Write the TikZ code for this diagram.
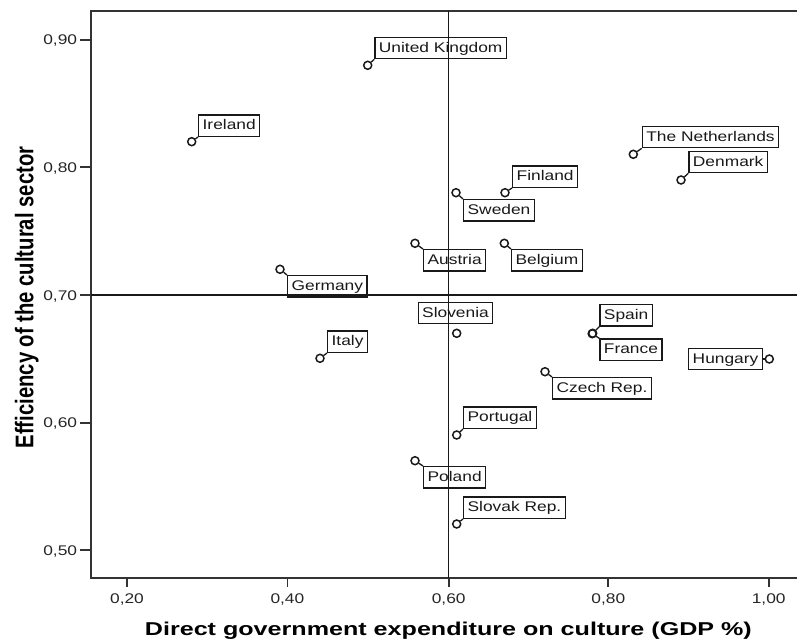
\documentclass[tikz,border=0pt]{standalone}
\usepackage{fontspec}
\newfontfamily\lblfont[FakeStretch=1.24]{Liberation Sans}
\newfontfamily\ttlfont[FakeStretch=1.35]{Liberation Sans}
\newfontfamily\ytlfont{Liberation Sans}

\begin{document}
\begin{tikzpicture}[x=1pt,y=-1pt,
  frame/.style={draw=black!80,line width=1.8pt},
  refline/.style={draw=black!90,line width=1.5pt},
  pt/.style={circle,draw=black!90,line width=1.5pt,inner sep=0pt,minimum size=8pt},
  lbl/.style={draw=black!90,line width=1.3pt,font=\lblfont\fontsize{14}{16}\selectfont,
    text=black!90,inner xsep=4pt,inner ysep=4.4pt,text height=10.5pt,text depth=2pt},
  leader/.style={draw=black!90,line width=1.3pt},
  ticklbl/.style={font=\lblfont\fontsize{14}{16}\selectfont,text=black!85,inner sep=0pt}]
\useasboundingbox (0,0) rectangle (797,642);
%frame and reference lines
\draw[frame] (797,11) -- (91,11) -- (91,578) -- (797,578);
\draw[refline] (448.7,11) -- (448.7,578);
\draw[refline] (91,295) -- (797,295);
%y axis
\draw[frame] (80,40) -- (91,40);
\draw[frame] (80,167.3) -- (91,167.3);
\draw[frame] (80,295) -- (91,295);
\draw[frame] (80,422.7) -- (91,422.7);
\draw[frame] (80,550) -- (91,550);
\node[ticklbl,anchor=base east] at (77.3,45) {0,90};
\node[ticklbl,anchor=base east] at (77.3,172.3) {0,80};
\node[ticklbl,anchor=base east] at (77.3,300) {0,70};
\node[ticklbl,anchor=base east] at (77.3,427.7) {0,60};
\node[ticklbl,anchor=base east] at (77.3,555) {0,50};
%x axis
\draw[frame] (127,578) -- (127,587);
\draw[frame] (287.4,578) -- (287.4,587);
\draw[frame] (448.7,578) -- (448.7,587);
\draw[frame] (608.3,578) -- (608.3,587);
\draw[frame] (768.7,578) -- (768.7,587);
\node[ticklbl,anchor=base] at (127,603) {0,20};
\node[ticklbl,anchor=base] at (287.4,603) {0,40};
\node[ticklbl,anchor=base] at (448.7,603) {0,60};
\node[ticklbl,anchor=base] at (608.3,603) {0,80};
\node[ticklbl,anchor=base] at (768.7,603) {1,00};
%titles
\node[font=\ttlfont\bfseries\fontsize{18.6}{20}\selectfont,text=black,anchor=base,inner sep=0pt] (xttl) at (448.4,635) {Direct government expenditure on culture (GDP \%)};
\node[font=\ytlfont\bfseries\fontsize{20.25}{22}\selectfont,text=black,rotate=90,anchor=base,inner sep=0pt] (yttl) at (33.3,297.5) {\scalebox{1}[1.26]{Efficiency of the cultural sector}};
%countries
\node[pt] (uk) at (367.7,65.3) {};
\node[lbl,anchor=south west] (ukL) at (374.3,59.3) {United Kingdom};
\draw[leader] (uk) -- (ukL.south west);
\node[pt] (ie) at (191.7,141.7) {};
\node[lbl,anchor=south west] (ieL) at (198,137) {Ireland};
\draw[leader] (ie) -- (ieL.south west);
\node[pt] (nl) at (633.3,154.3) {};
\node[lbl,anchor=south west] (nlL) at (641.7,148.3) {The Netherlands};
\draw[leader] (nl) -- (nlL.south west);
\node[pt] (dk) at (681,180) {};
\node[lbl,anchor=south west] (dkL) at (688.3,173.3) {Denmark};
\draw[leader] (dk) -- (dkL.south west);
\node[pt] (fi) at (505,192.7) {};
\node[lbl,anchor=south west] (fiL) at (512,188) {Finland};
\draw[leader] (fi) -- (fiL.south west);
\node[pt] (se) at (456,192.7) {};
\node[lbl,anchor=north west] (seL) at (463,199) {Sweden};
\draw[leader] (se) -- (seL.north west);
\node[pt] (at) at (415,243.3) {};
\node[lbl,anchor=north west] (atL) at (423,249) {Austria};
\draw[leader] (at) -- (atL.north west);
\node[pt] (be) at (504.3,243.3) {};
\node[lbl,anchor=north west] (beL) at (511,249) {Belgium};
\draw[leader] (be) -- (beL.north west);
\node[pt] (de) at (280,269.3) {};
\node[lbl,anchor=north west] (deL) at (287,275) {Germany};
\draw[leader] (de) -- (deL.north west);
\node[pt] (si) at (456.7,333.3) {};
\node[lbl,anchor=south] (siL) at (455.5,324.3) {Slovenia};
\node[pt] (es) at (592.7,333.3) {};
\node[pt] (fr) at (592.2,333.7) {};
\node[lbl,anchor=south west] (esL) at (599.3,326.7) {Spain};
\draw[leader] (es) -- (esL.south west);
\node[lbl,anchor=north west] (frL) at (599.3,338.3) {France};
\draw[leader] (fr) -- (frL.north west);
\node[pt] (it) at (320,358.3) {};
\node[lbl,anchor=south west] (itL) at (327,353) {Italy};
\draw[leader] (it) -- (itL.south west);
\node[pt] (hu) at (769.3,359) {};
\node[lbl,anchor=east] (huL) at (763,359) {Hungary};
\draw[leader] (hu) -- (huL.east);
\node[pt] (cz) at (545,371.7) {};
\node[lbl,anchor=north west] (czL) at (552,377) {Czech Rep.};
\draw[leader] (cz) -- (czL.north west);
\node[pt] (pt) at (456.7,435) {};
\node[lbl,anchor=south west] (ptL) at (463,429) {Portugal};
\draw[leader] (pt) -- (ptL.south west);
\node[pt] (pl) at (415,460.7) {};
\node[lbl,anchor=north west] (plL) at (423,466) {Poland};
\draw[leader] (pl) -- (plL.north west);
\node[pt] (sk) at (456.7,524) {};
\node[lbl,anchor=south west] (skL) at (463,519) {Slovak Rep.};
\draw[leader] (sk) -- (skL.south west);
\end{tikzpicture}
\end{document}
